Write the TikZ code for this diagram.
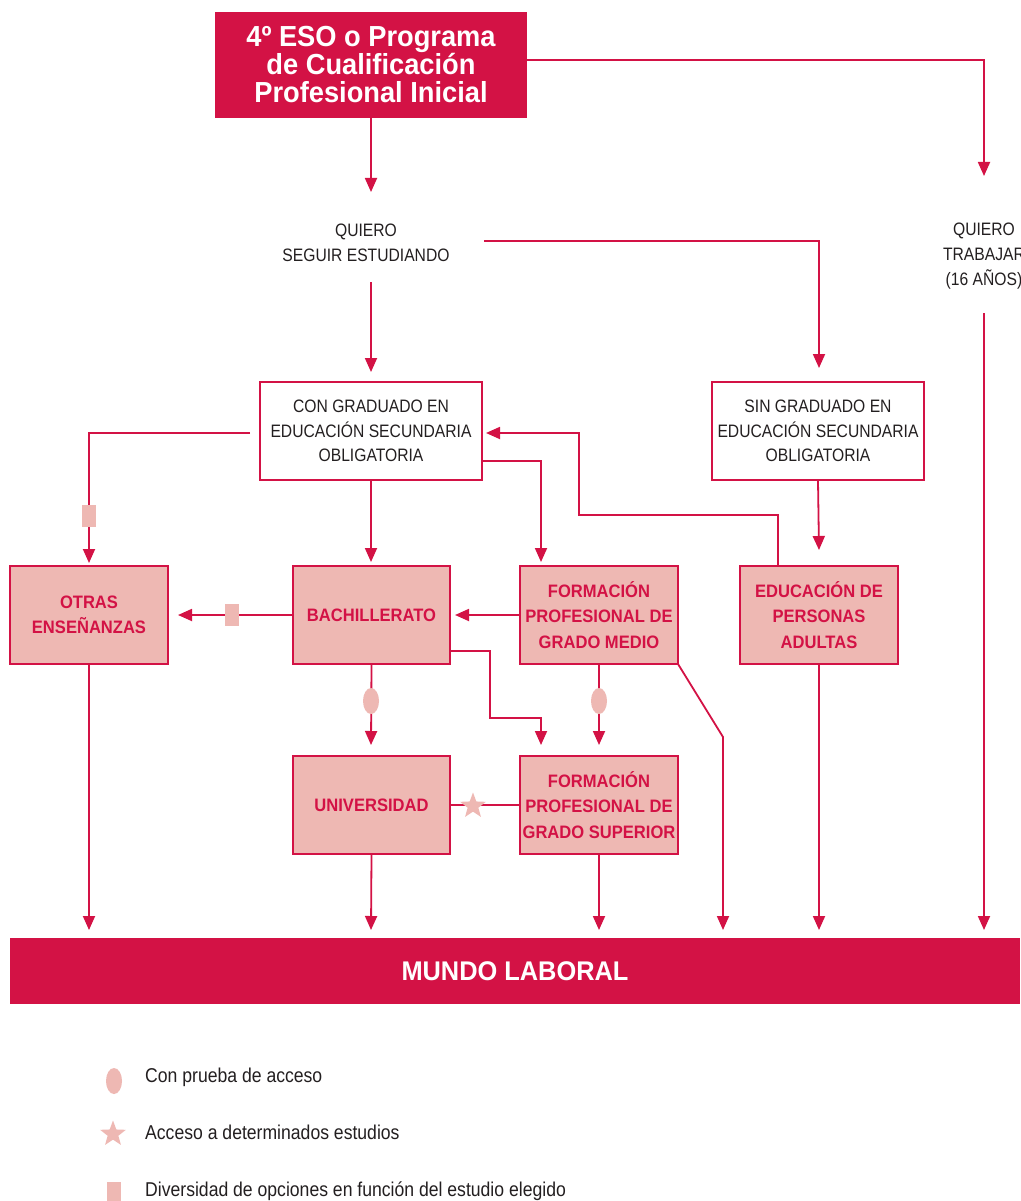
\documentclass[tikz,border=0pt]{standalone}
\usepackage{fontspec}
\setmainfont{Liberation Sans}[FakeStretch=0.87]
\newfontfamily\boxfont{Liberation Sans}[FakeStretch=0.92]
\newfontfamily\bigfont{Liberation Sans}[FakeStretch=0.94]
\newfontfamily\legfont{Liberation Sans}[FakeStretch=0.88]
\usetikzlibrary{arrows.meta,shapes.geometric}
\definecolor{crim}{HTML}{D31245}
\definecolor{rosa}{HTML}{EEB8B3}
\definecolor{ink}{HTML}{231F20}
\begin{document}
\begin{tikzpicture}[x=1pt,y=-1pt,
  conn/.style={draw=crim,line width=1.8pt},
  arr/.style={conn,-{Triangle[length=14pt,width=12pt]}},
  topbox/.style={fill=crim,draw=none,inner sep=0pt,minimum width=312pt,minimum height=106pt,
     text=white,font=\bigfont\fontsize{29}{28}\selectfont\bfseries,align=center},
  whitebox/.style={fill=white,draw=crim,line width=2pt,inner sep=0pt,minimum width=#1,minimum height=98pt,
     text=ink,font=\fontsize{18}{24.5}\selectfont,align=center},
  pinkbox/.style={fill=rosa,draw=crim,line width=2pt,inner sep=0pt,minimum width=158pt,minimum height=98pt,
     text=crim,font=\boxfont\fontsize{18}{25.5}\selectfont\bfseries,align=center},
  plaintext/.style={text=ink,font=\fontsize{18}{25}\selectfont,align=center,inner sep=0pt},
  sqmark/.style={fill=rosa,draw=none,inner sep=0pt,minimum width=14pt,minimum height=22pt},
  ovmark/.style={fill=rosa,draw=none,ellipse,inner sep=0pt,minimum width=16pt,minimum height=26pt},
  stmark/.style={fill=rosa,draw=none,star,star points=5,star point ratio=2.4,inner sep=0pt,minimum size=27pt},
  legtext/.style={text=ink,font=\legfont\fontsize{20}{22}\selectfont,anchor=west,inner sep=0pt}
]
\clip (0,0) rectangle (1020,1201);
\fill[white] (0,0) rectangle (1020,1201);

% boxes
\node[topbox] (top) at (371,65) {4º ESO o Programa\\de Cualificación\\Profesional Inicial};
\node[plaintext] (seguir) at (366,243) {QUIERO\\SEGUIR ESTUDIANDO};
\node[plaintext] (trabajar) at (984,256) {QUIERO\\TRABAJAR\\(16 AÑOS)};
\node[whitebox=222pt] (con) at (371,431) {CON GRADUADO EN\\EDUCACIÓN SECUNDARIA\\OBLIGATORIA};
\node[whitebox=212pt] (sin) at (818,431) {SIN GRADUADO EN\\EDUCACIÓN SECUNDARIA\\OBLIGATORIA};
\node[pinkbox] (otras) at (89,615) {OTRAS\\ENSEÑANZAS};
\node[pinkbox,minimum width=157pt] (bach) at (371.5,615) {BACHILLERATO};
\node[pinkbox] (fpm) at (599,615) {FORMACIÓN\\PROFESIONAL DE\\GRADO MEDIO};
\node[pinkbox] (epa) at (819,615) {EDUCACIÓN DE\\PERSONAS\\ADULTAS};
\node[pinkbox,minimum width=157pt] (univ) at (371.5,805) {UNIVERSIDAD};
\node[pinkbox] (fps) at (599,805) {FORMACIÓN\\PROFESIONAL DE\\GRADO SUPERIOR};
\node[fill=crim,draw=none,inner sep=0pt,minimum width=1010pt,minimum height=66pt,
  text=white,font=\bigfont\fontsize{27}{28}\selectfont\bfseries] (mundo) at (515,971) {MUNDO LABORAL};

% coordinates
\coordinate (c1) at (371,192);
\coordinate (t1) at (527,60);
\coordinate (t2) at (984,60);
\coordinate (t3) at (984,176);
\coordinate (s1) at (371,282);
\coordinate (s2) at (371,372);
\coordinate (r1) at (484,241);
\coordinate (r2) at (819,241);
\coordinate (r3) at (819,368);
\coordinate (w1) at (984,313);
\coordinate (w2) at (984,930);
\coordinate (l1) at (250,433);
\coordinate (l2) at (89,433);
\coordinate (l3) at (89,563);
\coordinate (cb) at (371,562);
\coordinate (cr1) at (482,461);
\coordinate (cr2) at (541,461);
\coordinate (cr3) at (541,562);
\coordinate (sd) at (819,550);
\coordinate (e1) at (778,566);
\coordinate (e2) at (778,515);
\coordinate (e3) at (579,515);
\coordinate (e4) at (579,433);
\coordinate (e5) at (486,433);
\coordinate (bo) at (178,615);
\coordinate (fb) at (455,615);
\coordinate (bu) at (371,745);
\coordinate (br1) at (450,651);
\coordinate (br2) at (490,651);
\coordinate (br3) at (490,718);
\coordinate (br4) at (541,718);
\coordinate (br5) at (541,745);
\coordinate (fd) at (599,745);
\coordinate (d1) at (678,664);
\coordinate (d2) at (723,737);
\coordinate (d3) at (723,930);
\coordinate (m1) at (89,930);
\coordinate (m2) at (371,930);
\coordinate (m3) at (599,930);
\coordinate (m5) at (819,930);

% connectors
\draw[arr] (top.south) -- (c1);
\draw[arr] (t1) -- (t2) -- (t3);
\draw[arr] (s1) -- (s2);
\draw[arr] (r1) -- (r2) -- (r3);
\draw[arr] (w1) -- (w2);
\draw[arr] (l1) -- (l2) -- (l3);
\draw[arr] (con.south) -- (cb);
\draw[arr] (cr1) -- (cr2) -- (cr3);
\draw[arr] (sin.south) -- (sd);
\draw[arr] (e1) -- (e2) -- (e3) -- (e4) -- (e5);
\draw[arr] (bach.west) -- (bo);
\draw[arr] (fpm.west) -- (fb);
\draw[arr] (bach.south) -- (bu);
\draw[arr] (br1) -- (br2) -- (br3) -- (br4) -- (br5);
\draw[arr] (fpm.south) -- (fd);
\draw[arr] (d1) -- (d2) -- (d3);
\draw[conn] (fps.west) -- (univ.east);
\draw[arr] (otras.south) -- (m1);
\draw[arr] (univ.south) -- (m2);
\draw[arr] (fps.south) -- (m3);
\draw[arr] (epa.south) -- (m5);

% markers on connectors
\node[sqmark] (q1) at (89,516) {};
\node[sqmark] (q2) at (232,615) {};
\node[ovmark] (o1) at (371,701) {};
\node[ovmark] (o2) at (599,701) {};
\node[stmark] (st1) at (473,806) {};

% legend
\node[ovmark] (lo) at (114,1081) {};
\node[legtext] (lot) at (145,1077) {Con prueba de acceso};
\node[stmark] (ls) at (113,1134) {};
\node[legtext] (lst) at (145,1132) {Acceso a determinados estudios};
\node[sqmark,minimum height=20pt] (lq) at (114,1192) {};
\node[legtext] (lqt) at (145,1191) {Diversidad de opciones en función del estudio elegido};
\end{tikzpicture}
\end{document}
